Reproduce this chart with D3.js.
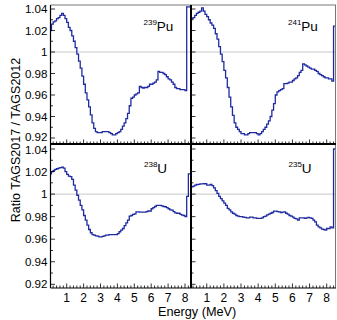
<!DOCTYPE html>
<html><head><meta charset="utf-8">
<script src="https://cdn.jsdelivr.net/npm/d3@7"></script>
<style>body{margin:0;background:#fff}svg{display:block}</style>
</head><body><svg id="c" width="337" height="320"></svg>
<script>
// bins of 0.1 MeV starting at 0.0 MeV
const binStart = 0.0;
const binWidth = 0.1;

const pu239 = [1.020,1.026,1.028,1.029,1.031,1.032,1.034,1.036,1.034,1.031,
  1.0275,1.023,1.020,1.015,1.010,1.004,0.998,0.9915,0.985,0.9775,
  0.970,0.962,0.9555,0.949,0.9415,0.934,0.929,0.926,0.925,0.925,
  0.925,0.926,0.926,0.926,0.926,0.925,0.924,0.923,0.923,0.924,
  0.925,0.926,0.928,0.931,0.934,0.938,0.943,0.950,0.957,0.958,
  0.960,0.961,0.962,0.968,0.967,0.9665,0.967,0.967,0.968,0.970,
  0.970,0.971,0.972,0.974,0.982,0.981,0.981,0.980,0.979,0.977,
  0.975,0.974,0.972,0.970,0.967,0.966,0.966,0.965,0.965,0.965,
  0.964,1.042,1.042,1.042,1.042,1.042];

const pu241 = [1.031,1.031,1.032,1.034,1.036,1.037,1.038,1.041,1.038,1.035,
  1.033,1.030,1.027,1.025,1.022,1.017,1.012,1.005,0.998,0.991,
  0.983,0.976,0.967,0.958,0.949,0.941,0.934,0.930,0.928,0.926,
  0.924,0.924,0.923,0.923,0.924,0.925,0.925,0.925,0.925,0.924,
  0.923,0.924,0.926,0.928,0.930,0.933,0.936,0.940,0.946,0.952,
  0.960,0.963,0.964,0.965,0.966,0.9705,0.9705,0.971,0.972,0.972,
  0.9735,0.975,0.976,0.978,0.981,0.983,0.989,0.988,0.987,0.986,
  0.985,0.984,0.984,0.983,0.982,0.980,0.979,0.978,0.977,0.976,
  0.976,0.975,0.975,0.973,1.024,1.024];

const u238 = [1.018,1.020,1.021,1.022,1.0225,1.023,1.0235,1.024,1.023,1.020,
  1.0175,1.016,1.0155,1.013,1.008,1.0035,0.999,0.9947,0.990,0.986,
  0.981,0.977,0.9725,0.9686,0.9657,0.964,0.9636,0.963,0.9627,0.962,
  0.962,0.9625,0.963,0.9636,0.9636,0.964,0.964,0.964,0.964,0.964,
  0.965,0.9666,0.968,0.9695,0.972,0.9745,0.977,0.9805,0.981,0.982,
  0.9825,0.9843,0.9843,0.984,0.984,0.984,0.984,0.9845,0.985,0.985,
  0.987,0.988,0.989,0.990,0.990,0.990,0.9896,0.989,0.9888,0.988,
  0.987,0.986,0.9858,0.9845,0.9834,0.983,0.983,0.982,0.9814,0.981,
  0.980,0.998,1.018,1.018,1.018,1.018];

const u235 = [1.003,1.0065,1.007,1.008,1.0085,1.0086,1.009,1.009,1.0092,1.0092,
  1.008,1.008,1.0086,1.0075,1.0055,1.003,1.0006,0.998,0.996,0.994,
  0.992,0.990,0.9873,0.986,0.9843,0.983,0.9822,0.981,0.9805,0.980,
  0.980,0.9795,0.9793,0.979,0.979,0.9795,0.9796,0.979,0.979,0.9784,
  0.9784,0.9784,0.979,0.980,0.9805,0.9815,0.9822,0.983,0.9837,0.9849,
  0.9849,0.9845,0.9843,0.9837,0.984,0.9843,0.983,0.9822,0.981,0.9805,
  0.9795,0.9784,0.978,0.977,0.979,0.979,0.979,0.9784,0.979,0.9793,
  0.979,0.9784,0.977,0.9754,0.9725,0.971,0.970,0.969,0.9686,0.968,
  0.9695,0.9695,0.971,0.970,1.040,1.040];

const isoMass = ["239","241","238","235"];
const isoElem = ["Pu","Pu","U","U"];
const yTicks = [0.92,0.94,0.96,0.98,1,1.02,1.04];
const yTickLabels = ["0.92","0.94","0.96","0.98","1","1.02","1.04"];
const xTicks = [1,2,3,4,5,6,7,8];
const xTickLabels = ["1","2","3","4","5","6","7","8"];
const yTitle = "Ratio TAGS2017 / TAGS2012";
const xTitle = "Energy (MeV)";

const svg = d3.select("#c");
const font = "'Liberation Sans', Arial, Helvetica, sans-serif";
const lineColor = "#1e2ba0";

const L = 50.5, M = 191, R = 336, T = 5, H = 144, B = 288;
const cols = [
  {x0: L, x1: M, sx: d3.scaleLinear().domain([0, 8]).range([49.8, 185])},
  {x0: M, x1: R, sx: d3.scaleLinear().domain([0, 8]).range([189.6, 326.7])}
];
const rows = [
  {y0: T, y1: H, sy: d3.scaleLinear().domain([0.92, 1.04]).range([138, 9])},
  {y0: H, y1: B, sy: d3.scaleLinear().domain([0.92, 1.04]).range([284.3, 149])}
];
const panels = [
  {data: pu239, c: 0, r: 0, i: 0, lx: 143.5, ly: 30.5},
  {data: pu241, c: 1, r: 0, i: 1, lx: 288, ly: 30.5},
  {data: u238, c: 0, r: 1, i: 2, lx: 144, ly: 172.5},
  {data: u235, c: 1, r: 1, i: 3, lx: 288.5, ly: 172.5}
];

const defs = svg.append("defs");
panels.forEach((p, k) => {
  const col = cols[p.c], row = rows[p.r];
  const sx = col.sx, sy = row.sy;
  defs.append("clipPath").attr("id", "clip" + k).append("rect")
    .attr("x", col.x0).attr("y", row.y0)
    .attr("width", col.x1 - col.x0).attr("height", row.y1 - row.y0);
  const g = svg.append("g");
  // reference line at 1
  g.append("line").attr("x1", col.x0).attr("x2", col.x1)
    .attr("y1", sy(1)).attr("y2", sy(1))
    .attr("stroke", "#c8c8c8").attr("stroke-width", 1);
  // histogram
  const pts = p.data.map((v, j) => [binStart + j * binWidth, v]);
  pts.push([binStart + p.data.length * binWidth, p.data[p.data.length - 1]]);
  const line = d3.line().x(d => sx(d[0])).y(d => sy(d[1])).curve(d3.curveStepAfter);
  g.append("path").attr("d", line(pts)).attr("fill", "none")
    .attr("stroke", lineColor).attr("stroke-width", 1.3)
    .attr("clip-path", "url(#clip" + k + ")");
  // y ticks
  const yt = d3.range(0.92, 1.0451, 0.01);
  yt.forEach((v, j) => {
    const major = j % 2 === 0;
    const yy = sy(v);
    if (yy < row.y0 + 0.5 || yy > row.y1 - 0.5) return;
    g.append("line").attr("x1", col.x0).attr("x2", col.x0 + (major ? 4.5 : 2.5))
      .attr("y1", yy).attr("y2", yy).attr("stroke", "#000").attr("stroke-width", 0.8);
  });
  // x ticks
  const xt = d3.range(0.2, 8.45, 0.2);
  xt.forEach(v => {
    const major = Math.abs(v - Math.round(v)) < 1e-6;
    const xx = sx(v);
    if (xx < col.x0 + 0.5 || xx > col.x1 - 0.5) return;
    g.append("line").attr("x1", xx).attr("x2", xx)
      .attr("y1", row.y1).attr("y2", row.y1 - (major ? 4.5 : 2.5))
      .attr("stroke", "#000").attr("stroke-width", 0.8);
  });
  // isotope label
  const t = g.append("text").attr("x", p.lx).attr("y", p.ly)
    .attr("font-family", font).attr("fill", "#000");
  t.append("tspan").attr("font-size", 8).attr("dy", -5.5).text(isoMass[p.i]);
  t.append("tspan").attr("font-size", 13.5).attr("dy", 5.5).text(isoElem[p.i]);
  // y tick labels on left column
  if (p.c === 0) {
    yTicks.forEach((v, j) => {
      let yy = sy(v);
      if (p.r === 0 && v === 0.92) yy -= 1.2;
      if (p.r === 1 && v === 1.04) yy += 1.2;
      svg.append("text").attr("x", 47.5).attr("y", yy).attr("dy", "0.36em")
        .attr("text-anchor", "end").attr("font-family", font).attr("font-size", 11.6)
        .attr("fill", "#000").text(yTickLabels[j]);
    });
  }
  // x tick labels on bottom row
  if (p.r === 1) {
    xTicks.forEach((v, j) => {
      svg.append("text").attr("x", sx(v)).attr("y", 301.5)
        .attr("text-anchor", "middle").attr("font-family", font).attr("font-size", 12)
        .attr("fill", "#000").text(xTickLabels[j]);
    });
  }
});

// frame lines
const fr = svg.append("g");
fr.append("line").attr("x1", L).attr("x2", R).attr("y1", T).attr("y2", T).attr("stroke", "#777").attr("stroke-width", 1);
fr.append("line").attr("x1", R - 0.5).attr("x2", R - 0.5).attr("y1", T).attr("y2", B).attr("stroke", "#777").attr("stroke-width", 1);
fr.append("line").attr("x1", L).attr("x2", L).attr("y1", T).attr("y2", B).attr("stroke", "#000").attr("stroke-width", 1.2);
fr.append("line").attr("x1", L).attr("x2", R).attr("y1", B).attr("y2", B).attr("stroke", "#000").attr("stroke-width", 1.2);
fr.append("line").attr("x1", L).attr("x2", R).attr("y1", H).attr("y2", H).attr("stroke", "#000").attr("stroke-width", 2);
fr.append("line").attr("x1", M).attr("x2", M).attr("y1", T).attr("y2", B).attr("stroke", "#000").attr("stroke-width", 2);

// axis titles
svg.append("text").attr("transform", "translate(19.5,140) rotate(-90)")
  .attr("text-anchor", "middle").attr("font-family", font).attr("font-size", 12.5)
  .attr("fill", "#000").text(yTitle);
svg.append("text").attr("x", 158).attr("y", 315.5)
  .attr("font-family", font).attr("font-size", 12.7)
  .attr("fill", "#000").text(xTitle);
</script>
</body></html>
